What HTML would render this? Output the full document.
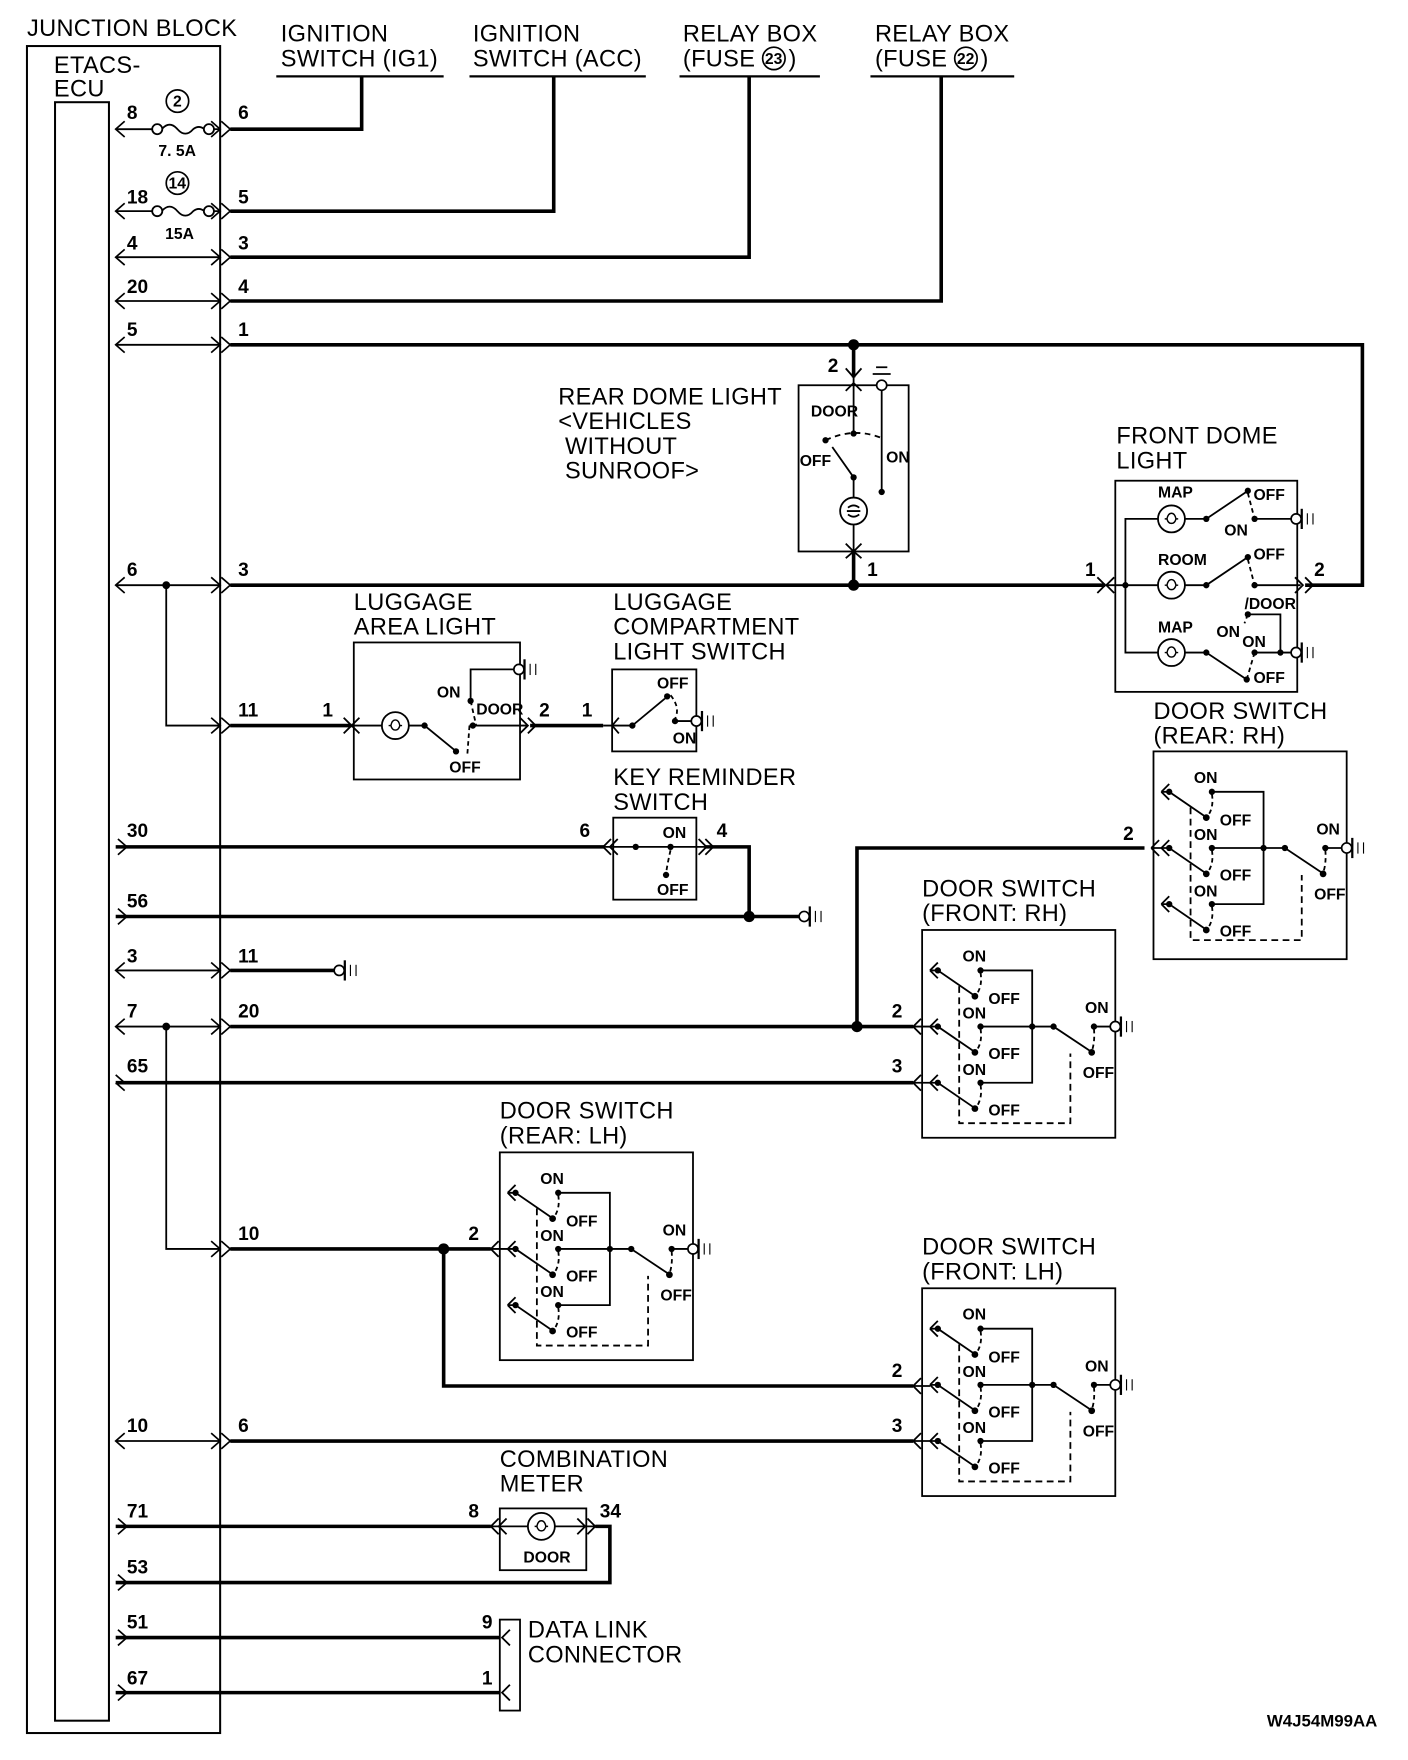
<!DOCTYPE html>
<html><head><meta charset="utf-8"><style>
html,body{margin:0;padding:0;background:#fff}
svg{display:block}
.t{font-family:"Liberation Sans",sans-serif;font-size:21px;letter-spacing:0.3px;fill:#000}
.n{font-family:"Liberation Sans",sans-serif;font-size:17px;font-weight:bold;fill:#000}
.s{font-family:"Liberation Sans",sans-serif;font-size:14px;font-weight:bold;fill:#000}
</style></head><body>
<svg width="1408" height="1760" viewBox="0 0 1253.6 1567" xmlns="http://www.w3.org/2000/svg">
<defs>
<g id="gnd"><circle cx="4" cy="0" r="4.5" fill="#fff" stroke="#000" stroke-width="1.5"/><line x1="9" y1="-9" x2="9" y2="9" stroke="#000" stroke-width="2"/><line x1="14" y1="-5" x2="14" y2="5" stroke="#000" stroke-width="1"/><line x1="19" y1="-5" x2="19" y2="5" stroke="#000" stroke-width="1"/></g>
<g id="la"><path d="M8,-7 L0,0 L8,7" fill="none" stroke="#000" stroke-width="1.5"/></g>
<g id="ra"><path d="M-8,-7 L0,0 L-8,7" fill="none" stroke="#000" stroke-width="1.5"/></g>
<g id="jr"><path d="M-8,-7 L0,0 L-8,7 M1,-7 L9,0 L1,7" fill="none" stroke="#000" stroke-width="1.5"/></g>
<g id="fil"><path d="M-6,0 h2 q1,-5 4,-5 q3,0 4,5 q-1,4 -4,4 q-3,0 -4,-4 M4,0 h2" fill="none" stroke="#000" stroke-width="1.3"/></g>
</defs>
<g fill="none" stroke="#000">
<rect x="24" y="41" width="172" height="1502" stroke-width="1.8"/>
<rect x="49" y="91" width="48" height="1441" stroke-width="1.8"/>
</g>
<text class="t" x="24" y="32">JUNCTION BLOCK</text>
<text class="t" x="48" y="65">ETACS-</text>
<text class="t" x="48" y="86">ECU</text>

<text class="t" x="250" y="37">IGNITION</text><text class="t" x="250" y="59">SWITCH (IG1)</text>
<text class="t" x="421" y="37">IGNITION</text><text class="t" x="421" y="59">SWITCH (ACC)</text>
<text class="t" x="608" y="37">RELAY BOX</text><text class="t" x="608" y="59">(FUSE</text><circle cx="689" cy="52" r="10" fill="none" stroke="#000" stroke-width="1.5"/><text class="s" x="681" y="57">23</text><text class="t" x="702" y="59">)</text>
<text class="t" x="779" y="37">RELAY BOX</text><text class="t" x="779" y="59">(FUSE</text><circle cx="860" cy="52" r="10" fill="none" stroke="#000" stroke-width="1.5"/><text class="s" x="852" y="57">22</text><text class="t" x="873" y="59">)</text>

<g fill="none" stroke="#000" stroke-width="2">
<line x1="246" y1="68" x2="395" y2="68"/><line x1="418" y1="68" x2="575" y2="68"/>
<line x1="605" y1="68" x2="730" y2="68"/><line x1="775" y1="68" x2="903" y2="68"/>
</g>

<g stroke="#000" stroke-width="1.6" fill="none">
<line x1="103" y1="115" x2="135" y2="115"/><line x1="191" y1="115" x2="196" y2="115"/>
<path d="M144,115 q7,-8 14,0 q7,8 14,0 q5,-4 10,0"/>
<line x1="103" y1="188" x2="135" y2="188"/><line x1="191" y1="188" x2="196" y2="188"/>
<path d="M144,188 q7,-8 14,0 q7,8 14,0 q5,-4 10,0"/>
<line x1="103" y1="229" x2="196" y2="229"/>
<line x1="103" y1="268" x2="196" y2="268"/>
<line x1="103" y1="307" x2="196" y2="307"/>
<line x1="103" y1="521" x2="196" y2="521"/>
<path d="M148,521 V646 H196"/>
<line x1="103" y1="864" x2="196" y2="864"/>
<line x1="103" y1="914" x2="196" y2="914"/>
<path d="M148,914 V1112 H196"/>
<line x1="103" y1="1283" x2="196" y2="1283"/>
</g>
<g fill="#fff" stroke="#000" stroke-width="1.6">
<circle cx="140" cy="115" r="4.5"/><circle cx="186" cy="115" r="4.5"/>
<circle cx="140" cy="188" r="4.5"/><circle cx="186" cy="188" r="4.5"/>
</g>
<circle cx="158" cy="90" r="10" fill="none" stroke="#000" stroke-width="1.5"/><text class="s" x="154" y="95">2</text>
<circle cx="158" cy="163" r="10" fill="none" stroke="#000" stroke-width="1.5"/><text class="s" x="150" y="168">14</text>
<text class="s" x="141" y="139">7. 5A</text><text class="s" x="147" y="213">15A</text>
<circle cx="148" cy="521" r="3.5"/><circle cx="148" cy="914" r="3.5"/>

<g>
<use href="#la" x="103" y="115"/><use href="#la" x="103" y="188"/><use href="#la" x="103" y="229"/><use href="#la" x="103" y="268"/><use href="#la" x="103" y="307"/><use href="#la" x="103" y="521"/><use href="#la" x="103" y="864"/><use href="#la" x="103" y="914"/><use href="#la" x="103" y="1283"/>
<use href="#ra" x="113" y="754"/><use href="#ra" x="113" y="816"/><use href="#ra" x="113" y="1359"/><use href="#ra" x="113" y="1409"/><use href="#ra" x="113" y="1458"/><use href="#ra" x="113" y="1507"/>
<path d="M111,964 L103,957 M103,964 L111,971" stroke="#000" stroke-width="1.5"/>
</g>
<g>
<use href="#jr" x="196" y="115"/><use href="#jr" x="196" y="188"/><use href="#jr" x="196" y="229"/><use href="#jr" x="196" y="268"/><use href="#jr" x="196" y="307"/><use href="#jr" x="196" y="521"/><use href="#jr" x="196" y="646"/><use href="#jr" x="196" y="864"/><use href="#jr" x="196" y="914"/><use href="#jr" x="196" y="1112"/><use href="#jr" x="196" y="1283"/>
</g>
<g>
<text class="n" x="113" y="106">8</text><text class="n" x="113" y="181">18</text><text class="n" x="113" y="222">4</text><text class="n" x="113" y="261">20</text><text class="n" x="113" y="299">5</text><text class="n" x="113" y="513">6</text><text class="n" x="113" y="745">30</text><text class="n" x="113" y="808">56</text><text class="n" x="113" y="857">3</text><text class="n" x="113" y="906">7</text><text class="n" x="113" y="955">65</text><text class="n" x="113" y="1275">10</text><text class="n" x="113" y="1351">71</text><text class="n" x="113" y="1401">53</text><text class="n" x="113" y="1450">51</text><text class="n" x="113" y="1500">67</text>
<text class="n" x="212" y="106">6</text><text class="n" x="212" y="181">5</text><text class="n" x="212" y="222">3</text><text class="n" x="212" y="261">4</text><text class="n" x="212" y="299">1</text><text class="n" x="212" y="513">3</text><text class="n" x="212" y="638">11</text><text class="n" x="212" y="857">11</text><text class="n" x="212" y="906">20</text><text class="n" x="212" y="1104">10</text><text class="n" x="212" y="1275">6</text>
</g>

<g fill="none" stroke="#000" stroke-width="3.2">
<path d="M205,115 H322 V68"/>
<path d="M205,188 H493 V68"/>
<path d="M205,229 H667 V68"/>
<path d="M205,268 H838 V68"/>
<path d="M205,307 H1213 V521 H1162"/>
<path d="M760,307 V336"/>
<path d="M205,521 H984"/>
<path d="M760,491 V521"/>
<path d="M205,646 H313"/>
<path d="M472,646 H537"/>
<path d="M103,754 H538"/>
<path d="M628,754 H667 V816"/>
<path d="M103,816 H712"/>
<path d="M205,864 H298"/>
<path d="M205,914 H813"/>
<path d="M763,914 V755 H1019"/>
<path d="M103,964 H813"/>
<path d="M205,1112 H437"/>
<path d="M395,1112 V1234 H813"/>
<path d="M205,1283 H813"/>
<path d="M103,1359 H437"/>
<path d="M530,1359 H543 V1409 H103"/>
<path d="M103,1458 H445"/>
<path d="M103,1507 H445"/>
</g>
<g fill="#000">
<circle cx="760" cy="307" r="5"/><circle cx="760" cy="521" r="5"/><circle cx="667" cy="816" r="5"/><circle cx="763" cy="914" r="5"/><circle cx="395" cy="1112" r="5"/>
</g>
<use href="#gnd" x="712" y="816"/><use href="#gnd" x="298" y="864"/>

<text class="t" x="497" y="360">REAR DOME LIGHT</text><text class="t" x="497" y="382">&lt;VEHICLES</text><text class="t" x="503" y="404">WITHOUT</text><text class="t" x="503" y="426">SUNROOF&gt;</text>
<g fill="none" stroke="#000" stroke-width="1.6">
<rect x="711" y="343" width="98" height="148"/>
<path d="M753,328 L760,336 L767,328 M753,348 L760,341 L767,348"/>
<path d="M760,336 V386"/>
<path d="M785,343 V438"/>
<path d="M777,333 H793 M780,327 H790"/>
<path d="M735,392 Q760,380 785,390" stroke-dasharray="5,4"/>
<path d="M741,398 L760,425 V443"/>
<circle cx="760" cy="455" r="12"/><path d="M754,455 h12 M755,452 q5,-4 10,0 M755,458 q5,4 10,0"/>
<path d="M760,467 V491"/>
<path d="M753,484 L760,491 L767,484 M753,497 L760,491 L767,497"/>
</g>
<g fill="#000"><circle cx="760" cy="386" r="2.8"/><circle cx="735" cy="392" r="2.8"/><circle cx="785" cy="438" r="2.8"/><circle cx="760" cy="425" r="2.8"/></g>
<circle cx="785" cy="343" r="4.5" fill="#fff" stroke="#000" stroke-width="1.5"/>
<text class="n" x="737" y="331">2</text><text class="n" x="772" y="513">1</text>
<text class="s" x="722" y="371">DOOR</text><text class="s" x="712" y="415">OFF</text><text class="s" x="789" y="412">ON</text>

<text class="t" x="994" y="395">FRONT DOME</text><text class="t" x="994" y="417">LIGHT</text>
<g fill="none" stroke="#000" stroke-width="1.6">
<rect x="993" y="428" width="162" height="188"/>
<path d="M984,521 L977,514 M984,521 L977,528 M992,514 L985,521 L992,528"/>
<path d="M985,521 H1031 M1055,521 H1074 L1111,496" />
<path d="M1002,521 V462 H1031 M1055,462 H1074 L1111,437"/>
<path d="M1002,521 V581 H1031 M1055,581 H1074 L1110,605"/>
<path d="M1117,462 H1150 M1117,521 H1158 M1117,581 H1150 M1111,547 H1140 V581"/>
<path d="M1111,439 L1117,462 M1111,498 L1117,521 M1111,547 L1108,555 M1117,581 L1110,605" stroke-dasharray="4,3"/>
<path d="M1153,514 L1160,521 L1153,528 M1162,514 L1169,521 L1162,528"/>
<circle cx="1043" cy="462" r="12" fill="#fff"/><circle cx="1043" cy="521" r="12" fill="#fff"/><circle cx="1043" cy="581" r="12" fill="#fff"/>
</g>
<use href="#fil" x="1043" y="462"/><use href="#fil" x="1043" y="521"/><use href="#fil" x="1043" y="581"/>
<g fill="#000"><circle cx="1002" cy="521" r="2.8"/><circle cx="1074" cy="462" r="2.8"/><circle cx="1074" cy="521" r="2.8"/><circle cx="1074" cy="581" r="2.8"/><circle cx="1111" cy="437" r="2.8"/><circle cx="1111" cy="496" r="2.8"/><circle cx="1117" cy="462" r="2.8"/><circle cx="1117" cy="521" r="2.8"/><circle cx="1111" cy="547" r="2.8"/><circle cx="1117" cy="581" r="2.8"/><circle cx="1140" cy="581" r="2.8"/><circle cx="1110" cy="605" r="2.8"/></g>
<use href="#gnd" x="1150" y="462"/><use href="#gnd" x="1150" y="581"/>
<text class="s" x="1031" y="443">MAP</text><text class="s" x="1031" y="503">ROOM</text><text class="s" x="1031" y="563">MAP</text>
<text class="s" x="1116" y="445">OFF</text><text class="s" x="1090" y="477">ON</text><text class="s" x="1116" y="498">OFF</text><text class="s" x="1108" y="542">/DOOR</text><text class="s" x="1083" y="567">ON</text><text class="s" x="1106" y="576">ON</text><text class="s" x="1116" y="608">OFF</text>
<text class="n" x="966" y="513">1</text><text class="n" x="1170" y="513">2</text>

<text class="t" x="315" y="543">LUGGAGE</text><text class="t" x="315" y="565">AREA LIGHT</text>
<g fill="none" stroke="#000" stroke-width="1.6">
<rect x="315" y="572" width="148" height="122"/>
<path d="M313,646 L306,639 M313,646 L306,653 M320,639 L313,646 L320,653"/>
<path d="M313,646 H340 M364,646 H378 L405,668 M418,646 H470 M419,624 V596 H458"/>
<path d="M419,624 L424,646 M418,646 L416,673" stroke-dasharray="4,3"/>
<path d="M463,639 L470,646 L463,653 M470,639 L477,646 L470,653"/>
<circle cx="352" cy="646" r="12" fill="#fff"/>
</g>
<use href="#fil" x="352" y="646"/>
<g fill="#000"><circle cx="378" cy="646" r="2.8"/><circle cx="419" cy="624" r="2.8"/><circle cx="421" cy="646" r="2.8"/><circle cx="406" cy="669" r="2.8"/></g>
<use href="#gnd" x="458" y="596"/>
<text class="s" x="389" y="621">ON</text><text class="s" x="424" y="636">DOOR</text><text class="s" x="400" y="688">OFF</text>
<text class="n" x="287" y="638">1</text><text class="n" x="480" y="638">2</text><text class="n" x="518" y="638">1</text>

<text class="t" x="546" y="543">LUGGAGE</text><text class="t" x="546" y="565">COMPARTMENT</text><text class="t" x="546" y="587">LIGHT SWITCH</text>
<g fill="none" stroke="#000" stroke-width="1.6">
<rect x="545" y="596" width="75" height="73"/>
<path d="M545,646 L551,639 M545,646 L551,653 M537,646 H563 L592,622"/>
<path d="M597,619 Q606,630 601,640" stroke-dasharray="4,3"/>
<path d="M601,642 H616"/>
</g>
<g fill="#000"><circle cx="563" cy="646" r="2.8"/><circle cx="594" cy="620" r="2.8"/><circle cx="601" cy="642" r="2.8"/></g>
<use href="#gnd" x="616" y="642"/>
<text class="s" x="585" y="613">OFF</text><text class="s" x="599" y="662">ON</text>

<text class="t" x="546" y="699">KEY REMINDER</text><text class="t" x="546" y="721">SWITCH</text>
<g fill="none" stroke="#000" stroke-width="1.6">
<rect x="546" y="728" width="74" height="73"/>
<path d="M544,747 L537,754 L544,761 M550,747 L543,754 L550,761"/>
<path d="M538,754 H628 M622,747 L629,754 L622,761 M628,747 L635,754 L628,761"/>
<path d="M597,757 Q594,770 593,778" stroke-dasharray="4,3"/>
</g>
<g fill="#000"><circle cx="566" cy="754" r="2.8"/><circle cx="597" cy="754" r="2.8"/><circle cx="593" cy="779" r="2.8"/></g>
<text class="s" x="590" y="746">ON</text><text class="s" x="585" y="797">OFF</text>
<text class="n" x="516" y="745">6</text><text class="n" x="638" y="745">4</text>

<g transform="translate(1027,669)">
<g fill="none" stroke="#000" stroke-width="1.6">
<rect x="0" y="0" width="172" height="185"/>
<path d="M-2,86 H7 M-2,86 L5,79 M-2,86 L5,93 M7,36 L14,29 M7,36 L14,43 M7,86 L14,79 M7,86 L14,93 M7,136 L14,129 M7,136 L14,143"/>
<path d="M7,36 H14 L46,58 M7,86 H14 L46,108 M7,136 H14 L46,158"/>
<path d="M52,36 H98 V136 H52 M52,86 H117 L150,108 M153,86 H168"/>
<path d="M52,38 Q54,50 48,58 M52,88 Q54,100 48,108 M52,138 Q54,150 48,158 M153,88 Q154,100 151,108" stroke-dasharray="4,3"/>
<path d="M33,50 V168 H132 V110" stroke-dasharray="6,4"/>
</g>
<g fill="#000"><circle cx="14" cy="36" r="2.8"/><circle cx="14" cy="86" r="2.8"/><circle cx="14" cy="136" r="2.8"/><circle cx="52" cy="36" r="2.8"/><circle cx="52" cy="86" r="2.8"/><circle cx="52" cy="136" r="2.8"/><circle cx="47" cy="59" r="3"/><circle cx="47" cy="109" r="3"/><circle cx="47" cy="159" r="3"/><circle cx="98" cy="86" r="2.8"/><circle cx="117" cy="86" r="2.8"/><circle cx="153" cy="86" r="2.8"/><circle cx="151" cy="109" r="3"/></g>
<use href="#gnd" x="168" y="86"/>
<text class="s" x="36" y="28">ON</text><text class="s" x="59" y="66">OFF</text><text class="s" x="36" y="79">ON</text><text class="s" x="59" y="115">OFF</text><text class="s" x="36" y="129">ON</text><text class="s" x="59" y="165">OFF</text><text class="s" x="145" y="74">ON</text><text class="s" x="143" y="132">OFF</text>
</g>
<text class="t" x="1027" y="640">DOOR SWITCH</text><text class="t" x="1027" y="662">(REAR: RH)</text>
<text class="n" x="1000" y="748">2</text>

<g transform="translate(821,828)">
<g fill="none" stroke="#000" stroke-width="1.6">
<rect x="0" y="0" width="172" height="185"/>
<path d="M-8,86 H7 M-8,136 H7 M7,36 L14,29 M7,36 L14,43 M7,86 L14,79 M7,86 L14,93 M7,136 L14,129 M7,136 L14,143 M-1,79 L-8,86 L-1,93 M-1,129 L-8,136 L-1,143"/>
<path d="M7,36 H14 L46,58 M7,86 H14 L46,108 M7,136 H14 L46,158"/>
<path d="M52,36 H98 V136 H52 M52,86 H117 L150,108 M153,86 H168"/>
<path d="M52,38 Q54,50 48,58 M52,88 Q54,100 48,108 M52,138 Q54,150 48,158 M153,88 Q154,100 151,108" stroke-dasharray="4,3"/>
<path d="M33,50 V172 H132 V110" stroke-dasharray="6,4"/>
</g>
<g fill="#000"><circle cx="14" cy="36" r="2.8"/><circle cx="14" cy="86" r="2.8"/><circle cx="14" cy="136" r="2.8"/><circle cx="52" cy="36" r="2.8"/><circle cx="52" cy="86" r="2.8"/><circle cx="52" cy="136" r="2.8"/><circle cx="47" cy="59" r="3"/><circle cx="47" cy="109" r="3"/><circle cx="47" cy="159" r="3"/><circle cx="98" cy="86" r="2.8"/><circle cx="117" cy="86" r="2.8"/><circle cx="153" cy="86" r="2.8"/><circle cx="151" cy="109" r="3"/></g>
<use href="#gnd" x="168" y="86"/>
<text class="s" x="36" y="28">ON</text><text class="s" x="59" y="66">OFF</text><text class="s" x="36" y="79">ON</text><text class="s" x="59" y="115">OFF</text><text class="s" x="36" y="129">ON</text><text class="s" x="59" y="165">OFF</text><text class="s" x="145" y="74">ON</text><text class="s" x="143" y="132">OFF</text>
</g>
<text class="t" x="821" y="798">DOOR SWITCH</text><text class="t" x="821" y="820">(FRONT: RH)</text>
<text class="n" x="794" y="906">2</text><text class="n" x="794" y="955">3</text>

<g transform="translate(445,1026)">
<g fill="none" stroke="#000" stroke-width="1.6">
<rect x="0" y="0" width="172" height="185"/>
<path d="M-8,86 H7 M7,36 L14,29 M7,36 L14,43 M7,86 L14,79 M7,86 L14,93 M7,136 L14,129 M7,136 L14,143 M-1,79 L-8,86 L-1,93"/>
<path d="M7,36 H14 L46,58 M7,86 H14 L46,108 M7,136 H14 L46,158"/>
<path d="M52,36 H98 V136 H52 M52,86 H117 L150,108 M153,86 H168"/>
<path d="M52,38 Q54,50 48,58 M52,88 Q54,100 48,108 M52,138 Q54,150 48,158 M153,88 Q154,100 151,108" stroke-dasharray="4,3"/>
<path d="M33,50 V172 H132 V110" stroke-dasharray="6,4"/>
</g>
<g fill="#000"><circle cx="14" cy="36" r="2.8"/><circle cx="14" cy="86" r="2.8"/><circle cx="14" cy="136" r="2.8"/><circle cx="52" cy="36" r="2.8"/><circle cx="52" cy="86" r="2.8"/><circle cx="52" cy="136" r="2.8"/><circle cx="47" cy="59" r="3"/><circle cx="47" cy="109" r="3"/><circle cx="47" cy="159" r="3"/><circle cx="98" cy="86" r="2.8"/><circle cx="117" cy="86" r="2.8"/><circle cx="153" cy="86" r="2.8"/><circle cx="151" cy="109" r="3"/></g>
<use href="#gnd" x="168" y="86"/>
<text class="s" x="36" y="28">ON</text><text class="s" x="59" y="66">OFF</text><text class="s" x="36" y="79">ON</text><text class="s" x="59" y="115">OFF</text><text class="s" x="36" y="129">ON</text><text class="s" x="59" y="165">OFF</text><text class="s" x="145" y="74">ON</text><text class="s" x="143" y="132">OFF</text>
</g>
<text class="t" x="445" y="996">DOOR SWITCH</text><text class="t" x="445" y="1018">(REAR: LH)</text>
<text class="n" x="417" y="1104">2</text>

<g transform="translate(821,1147)">
<g fill="none" stroke="#000" stroke-width="1.6">
<rect x="0" y="0" width="172" height="185"/>
<path d="M-8,87 H7 M-8,136 H7 M7,36 L14,29 M7,36 L14,43 M7,86 L14,79 M7,86 L14,93 M7,136 L14,129 M7,136 L14,143 M-1,80 L-8,87 L-1,94 M-1,129 L-8,136 L-1,143"/>
<path d="M7,36 H14 L46,58 M7,86 H14 L46,108 M7,136 H14 L46,158"/>
<path d="M52,36 H98 V136 H52 M52,86 H117 L150,108 M153,86 H168"/>
<path d="M52,38 Q54,50 48,58 M52,88 Q54,100 48,108 M52,138 Q54,150 48,158 M153,88 Q154,100 151,108" stroke-dasharray="4,3"/>
<path d="M33,50 V172 H132 V110" stroke-dasharray="6,4"/>
</g>
<g fill="#000"><circle cx="14" cy="36" r="2.8"/><circle cx="14" cy="86" r="2.8"/><circle cx="14" cy="136" r="2.8"/><circle cx="52" cy="36" r="2.8"/><circle cx="52" cy="86" r="2.8"/><circle cx="52" cy="136" r="2.8"/><circle cx="47" cy="59" r="3"/><circle cx="47" cy="109" r="3"/><circle cx="47" cy="159" r="3"/><circle cx="98" cy="86" r="2.8"/><circle cx="117" cy="86" r="2.8"/><circle cx="153" cy="86" r="2.8"/><circle cx="151" cy="109" r="3"/></g>
<use href="#gnd" x="168" y="86"/>
<text class="s" x="36" y="28">ON</text><text class="s" x="59" y="66">OFF</text><text class="s" x="36" y="79">ON</text><text class="s" x="59" y="115">OFF</text><text class="s" x="36" y="129">ON</text><text class="s" x="59" y="165">OFF</text><text class="s" x="145" y="74">ON</text><text class="s" x="143" y="132">OFF</text>
</g>
<text class="t" x="821" y="1117">DOOR SWITCH</text><text class="t" x="821" y="1139">(FRONT: LH)</text>
<text class="n" x="794" y="1226">2</text><text class="n" x="794" y="1275">3</text>

<text class="t" x="445" y="1306">COMBINATION</text><text class="t" x="445" y="1328">METER</text>
<g fill="none" stroke="#000" stroke-width="1.6">
<rect x="445" y="1343" width="77" height="55"/>
<path d="M437,1359 H530 M444,1352 L437,1359 L444,1366 M451,1352 L444,1359 L451,1366 M514,1352 L521,1359 L514,1366 M523,1352 L530,1359 L523,1366"/>
<circle cx="482" cy="1359" r="12" fill="#fff"/>
</g>
<use href="#fil" x="482" y="1359"/>
<text class="s" x="466" y="1391">DOOR</text>
<text class="n" x="417" y="1351">8</text><text class="n" x="534" y="1351">34</text>

<g fill="none" stroke="#000" stroke-width="1.6">
<rect x="445" y="1442" width="18" height="81"/>
<path d="M454,1451 L447,1458 L454,1465 M454,1500 L447,1507 L454,1514"/>
</g>
<text class="t" x="470" y="1458">DATA LINK</text><text class="t" x="470" y="1480">CONNECTOR</text>
<text class="n" x="429" y="1450">9</text><text class="n" x="429" y="1500">1</text>

<text class="n" x="1128" y="1537" style="font-size:15px">W4J54M99AA</text>
</svg>
</body></html>
